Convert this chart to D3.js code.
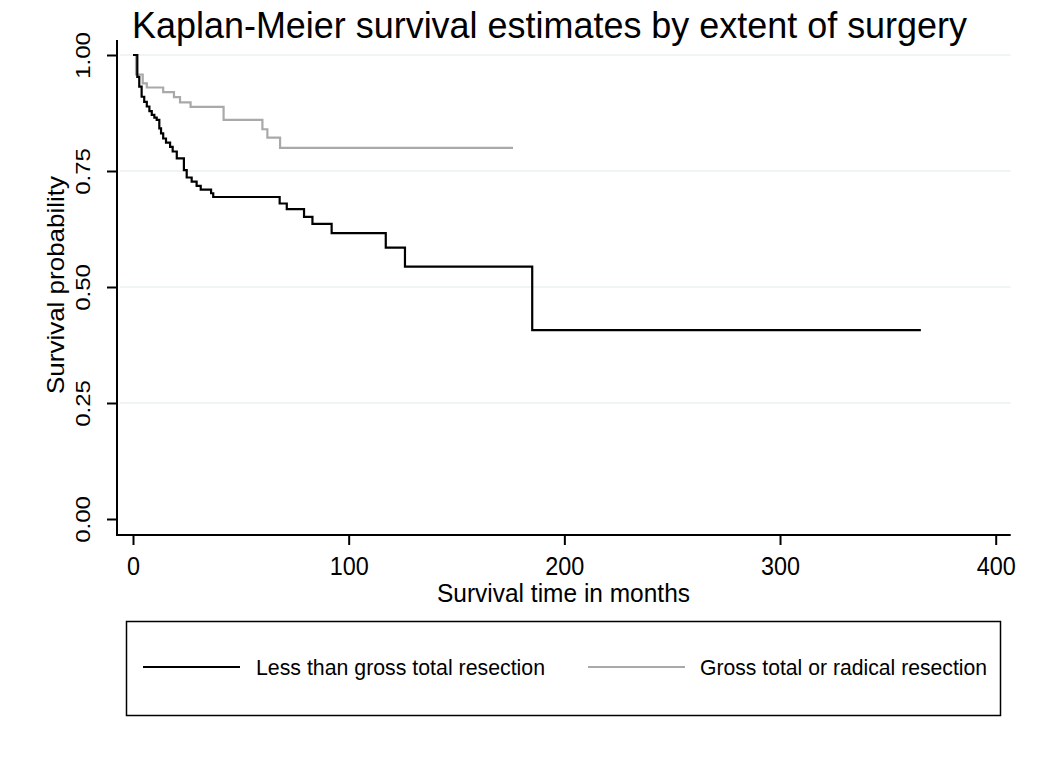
<!DOCTYPE html>
<html><head><meta charset="utf-8">
<script src="https://cdn.jsdelivr.net/npm/d3@7"></script>
<style>body{margin:0;background:#fff}svg{display:block}text{font-family:"Liberation Sans",Arial,sans-serif;fill:#000}</style>
</head><body>
<svg id="c" width="1050" height="764"></svg>
<script>
// Data
const lessTimes = [0, 2.0, 2.9, 4.0, 5.2, 6.4, 7.6, 8.7, 9.9, 11.0, 12.2, 13.0, 14.0, 15.3, 17.2, 18.4, 20.3, 23.6, 24.9, 27.2, 29.5, 31.4, 36.2, 37.2, 68.0, 71.3, 79.3, 83.2, 92.1, 117.2, 126.1, 185.1, 365.3];
const lessSurv  = [1, 0.953, 0.932, 0.910, 0.899, 0.889, 0.879, 0.871, 0.865, 0.860, 0.842, 0.831, 0.820, 0.811, 0.802, 0.792, 0.777, 0.752, 0.736, 0.727, 0.718, 0.710, 0.702, 0.694, 0.680, 0.668, 0.651, 0.636, 0.616, 0.585, 0.544, 0.407, 0.407];
const grossTimes = [0, 1.4, 4.5, 6.4, 14.0, 19.0, 21.8, 26.7, 42.0, 60.0, 62.3, 68.2, 176.2];
const grossSurv  = [1, 0.958, 0.939, 0.930, 0.920, 0.909, 0.898, 0.888, 0.860, 0.840, 0.822, 0.800, 0.800];
const xTicks = [0, 100, 200, 300, 400];
const yTicks = [0, 0.25, 0.5, 0.75, 1];
const gridTicks = [0.25, 0.5, 0.75, 1];
const seriesNames = ["Less than gross total resection", "Gross total or radical resection"];
const seriesColors = ["#000000", "#a9a9a9"];
const titleText = "Kaplan-Meier survival estimates by extent of surgery";
const xTitle = "Survival time in months";
const yTitle = "Survival probability";

const svg = d3.select("#c");
svg.append("rect").attr("width",1050).attr("height",764).attr("fill","#fff");

const x = d3.scaleLinear().domain([0,400]).range([133, 995.7]);
const y = d3.scaleLinear().domain([0,1]).range([519, 55]);
const plotL = 117, plotR = 1010.7, plotT = 40, plotB = 535;

// grid
svg.append("g").selectAll("line").data(gridTicks).join("line")
  .attr("x1", 120).attr("x2", plotR).attr("y1", d=>y(d)).attr("y2", d=>y(d))
  .attr("stroke", "#eaf1f2").attr("stroke-width", 1.5);

// curves
const line = d3.line().x(d=>x(d[0])).y(d=>y(d[1])).curve(d3.curveStepAfter);
const lessData = lessTimes.map((t,i)=>[t, lessSurv[i]]);
const grossData = grossTimes.map((t,i)=>[t, grossSurv[i]]);
svg.append("path").datum(grossData).attr("d", line).attr("fill","none")
  .attr("stroke", seriesColors[1]).attr("stroke-width", 2.2);
svg.append("path").datum(lessData).attr("d", line).attr("fill","none")
  .attr("stroke", seriesColors[0]).attr("stroke-width", 2.2);

// axes lines
svg.append("line").attr("x1", plotL).attr("x2", plotL).attr("y1", plotT).attr("y2", plotB)
  .attr("stroke","#000").attr("stroke-width",2);
svg.append("line").attr("x1", plotL-1).attr("x2", plotR).attr("y1", plotB).attr("y2", plotB)
  .attr("stroke","#000").attr("stroke-width",2);

// y axis
const ya = svg.append("g").attr("transform", `translate(${plotL},0)`)
  .call(d3.axisLeft(y).tickValues(yTicks).tickFormat(d3.format(".2f")).tickSize(10));
ya.select(".domain").remove();
ya.selectAll(".tick line").attr("stroke","#000").attr("stroke-width",2);
ya.selectAll(".tick text").attr("x",0).attr("y",0).attr("dy",0)
  .attr("text-anchor","middle").attr("font-size",24)
  .attr("transform","translate(-27,0) scale(0.88,1) rotate(-90)")
  .style("font-family","'Liberation Sans',Arial,sans-serif").attr("fill","#000");

// x axis
const xa = svg.append("g").attr("transform", `translate(0,${plotB})`)
  .call(d3.axisBottom(x).tickValues(xTicks).tickFormat(d3.format("d")).tickSize(10));
xa.select(".domain").remove();
xa.selectAll(".tick line").attr("stroke","#000").attr("stroke-width",2);
xa.selectAll(".tick text").attr("y",40).attr("dy",0).attr("font-size",26)
  .attr("transform","scale(0.9,1)")
  .style("font-family","'Liberation Sans',Arial,sans-serif").attr("fill","#000");

// titles
svg.append("text").attr("x",132).attr("y",38).attr("font-size",36)
  .attr("textLength",835).attr("lengthAdjust","spacingAndGlyphs").text(titleText);
svg.append("text").attr("x",563.5).attr("y",602).attr("font-size",25).attr("text-anchor","middle")
  .attr("textLength",253).attr("lengthAdjust","spacingAndGlyphs").text(xTitle);
svg.append("text").attr("transform","translate(64,285) scale(0.9,1) rotate(-90)")
  .attr("font-size",26).attr("text-anchor","middle")
  .attr("textLength",218).attr("lengthAdjust","spacingAndGlyphs").text(yTitle);

// legend
const lg = svg.append("g");
lg.append("rect").attr("x",126.5).attr("y",621.5).attr("width",874).attr("height",94)
  .attr("fill","none").attr("stroke","#000").attr("stroke-width",1.5);
const legItems = [
  {x1:143, x2:240, tx:256, tl:289},
  {x1:588, x2:685, tx:700, tl:287}
];
legItems.forEach((it,i)=>{
  lg.append("line").attr("x1",it.x1).attr("x2",it.x2).attr("y1",667).attr("y2",667)
    .attr("stroke",seriesColors[i]).attr("stroke-width",2);
  lg.append("text").attr("x",it.tx).attr("y",675).attr("font-size",22)
    .attr("textLength",it.tl).attr("lengthAdjust","spacingAndGlyphs").text(seriesNames[i]);
});
</script>
</body></html>
